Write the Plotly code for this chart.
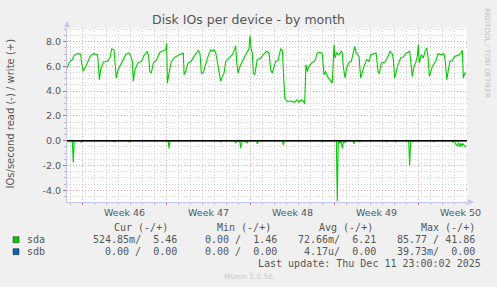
import pandas as pd
import plotly.graph_objects as go

# ---------------- data ----------------
week_start = "2025-11-10"          # Monday of week 46
week_labels = ["Week 46", "Week 47", "Week 48", "Week 49", "Week 50"]
week_label_days = [3.5, 10.5, 17.5, 24.5, 31.5]

# sda write (+), time as days since week_start
write_days = [-1.25, -1.11, -0.83, -0.69, -0.42, -0.13, -0.08, 0.0, 0.08, 0.28, 0.48, 0.70, 0.92,
              1.12, 1.27, 1.33, 1.42, 1.53, 1.75, 2.08, 2.31, 2.45, 2.64, 2.73, 2.83, 2.98,
              3.20, 3.42, 3.62, 3.89, 4.03, 4.17, 4.25, 4.39, 4.64, 4.92, 5.14, 5.42, 5.53,
              5.62, 5.75, 5.92, 6.20, 6.48, 6.75, 6.95, 7.03, 7.09, 7.23, 7.42, 7.64, 7.87,
              8.06, 8.33, 8.42, 8.48, 8.62, 8.81, 9.03, 9.31, 9.53, 9.67, 9.81, 9.92, 10.06,
              10.28, 10.48, 10.70, 10.83, 10.98, 11.12, 11.25, 11.39, 11.53, 11.67, 11.81,
              11.95, 12.23, 12.50, 12.70, 12.78, 12.87, 12.98, 13.14, 13.33, 13.56, 13.75,
              13.89, 13.98, 14.08, 14.17, 14.25, 14.37, 14.58, 14.87, 15.08, 15.28, 15.37,
              15.56, 15.70, 15.83, 15.98, 16.12, 16.31, 16.42, 16.53, 16.67, 16.75, 16.87,
              17.08, 17.37, 17.64, 17.92, 18.06, 18.25, 18.42, 18.53, 18.64, 18.75, 18.89,
              19.17, 19.37, 19.58, 19.81, 20.00, 20.14, 20.28, 20.42, 20.64, 20.83, 20.98,
              21.06, 21.20, 21.39, 21.58, 21.67, 21.75, 21.89, 22.03, 22.23, 22.42, 22.58,
              22.70, 22.83, 23.06, 23.20, 23.33, 23.48, 23.70, 23.89, 24.03, 24.25, 24.48,
              24.53, 24.64, 24.75, 24.92, 25.20, 25.42, 25.64, 25.83, 25.92, 26.03, 26.14,
              26.31, 26.53, 26.75, 26.95, 27.17, 27.28, 27.37, 27.50, 27.64, 27.78, 27.92,
              28.00, 28.08, 28.25, 28.42, 28.56, 28.70, 28.81, 28.92, 29.03, 29.17, 29.45,
              29.64, 29.92, 30.14, 30.25, 30.37, 30.48, 30.64, 30.83, 31.03, 31.25, 31.53,
              31.67, 31.75, 31.87, 31.96]
write_vals = [5.87, 6.28, 6.55, 6.87, 7.03, 7.00, 6.40, 5.87, 5.60, 6.00, 6.40, 6.87, 7.03,
              6.95, 6.95, 6.28, 4.92, 5.73, 6.36, 6.40, 6.68, 7.41, 7.35, 6.28, 5.06, 5.73,
              6.14, 6.55, 6.95, 7.09, 6.87, 6.40, 4.79, 5.73, 6.28, 6.40, 6.87, 7.22, 6.81,
              5.60, 5.46, 6.28, 6.55, 7.14, 7.30, 7.35, 7.84, 4.65, 5.46, 6.40, 6.68, 6.87,
              6.95, 7.03, 7.09, 5.33, 5.60, 6.28, 6.36, 6.81, 7.09, 7.30, 7.03, 5.46, 5.46,
              6.28, 6.81, 7.35, 7.22, 7.35, 7.09, 6.40, 5.60, 4.79, 5.19, 5.46,
              6.40, 6.68, 6.95, 7.41, 7.68, 6.28, 5.46, 6.00, 6.40, 6.95, 7.22,
              7.35, 8.49, 7.35, 7.09, 5.46, 5.33, 6.55, 6.68, 6.95, 7.09, 7.22,
              7.09, 5.73, 5.46, 6.00, 6.40, 6.47, 6.95, 7.41, 7.30, 5.73, 3.44,
              3.16, 3.20, 3.10, 3.30, 3.10, 3.30, 3.15, 2.98, 6.14, 5.60, 6.00,
              6.33, 6.40, 7.09, 7.14, 7.03, 5.33, 5.60, 5.19, 4.92, 4.65, 7.76,
              6.68, 7.09, 6.95, 7.22, 7.09, 6.00, 5.06, 5.87, 6.33, 6.40, 7.14,
              7.62, 7.09, 6.81, 5.06, 5.60, 6.00, 6.55, 6.40, 6.95, 7.03, 7.09,
              6.68, 5.60, 5.41, 6.28, 6.33, 6.68, 7.22, 7.03, 6.55, 5.06, 5.46,
              6.14, 6.68, 6.75, 7.03, 7.14, 7.22, 6.40, 5.19, 6.00, 6.28, 6.81,
              7.76, 6.28, 6.95, 6.68, 7.22, 7.49, 6.81, 5.19, 5.60, 6.00, 6.40,
              7.03, 6.95, 7.03, 6.40, 4.92, 5.60, 6.40, 6.47, 6.81, 6.87, 7.03,
              7.30, 5.06, 5.46, 5.46]

# sda read (-), magnitudes, drawn below zero
read_days = [-1.25, -0.83, -0.75, -0.67, -0.15, -0.08, 0.02, 2.55, 2.64, 2.72, 3.80, 3.89, 3.98,
             7.15, 7.23, 7.31, 11.45, 11.53, 11.61, 12.70, 12.78, 12.90, 13.12, 13.20, 13.30,
             13.50, 13.56, 13.64, 13.72, 13.85, 14.50, 14.58, 14.68, 16.67, 16.75, 16.85,
             19.90, 19.98, 20.06, 21.17, 21.25, 21.33, 21.48, 21.56, 21.67, 21.78, 21.89,
             21.98, 22.56, 22.64, 22.72, 23.06, 23.14, 23.22, 25.31, 25.39, 25.47, 26.06,
             26.14, 26.22, 27.20, 27.28, 27.36, 27.48, 27.56, 27.64, 29.22, 29.30, 29.38,
             29.72, 29.80, 29.88, 30.81, 30.89, 30.97, 31.14, 31.25, 31.35, 31.48, 31.56,
             31.64, 31.72, 31.85, 31.96]
read_vals = [0.0, 0.0, 1.75, 0.0, 0.0, 0.15, 0.0, 0.0, 0.10, 0.0, 0.0, 0.10, 0.0,
             0.0, 0.62, 0.0, 0.0, 0.10, 0.0, 0.0, 0.20, 0.0, 0.0, 0.60, 0.0,
             0.0, 0.10, 0.0, 0.20, 0.0, 0.0, 0.25, 0.0, 0.0, 0.35, 0.0,
             0.0, 0.10, 0.0, 0.0, 4.87, 0.0, 0.20, 0.0, 0.62, 0.0, 0.15,
             0.0, 0.0, 0.25, 0.0, 0.0, 0.10, 0.0, 0.0, 0.10, 0.0, 0.0,
             0.10, 0.0, 0.0, 2.03, 0.0, 0.0, 0.10, 0.0, 0.0, 0.10, 0.0,
             0.0, 0.05, 0.0, 0.0, 0.15, 0.0, 0.30, 0.43, 0.15, 0.50, 0.20,
             0.45, 0.25, 0.45, 0.52]

# sdb: idle
sdb_days = [-1.25, 31.96]
sdb_read = [0.0, 0.0]
sdb_write = [0.0, 0.0]

ytick_vals = [-4, -2, 0, 2, 4, 6, 8]
ytick_text = ["-4.0", "-2.0", "0.0", "2.0", "4.0", "6.0", "8.0"]

series_names = ["sda", "sdb"]
series_colors = ["#00cc00", "#0066b3"]
legend_headers = ["Cur (-/+)", "Min (-/+)", "Avg (-/+)", "Max (-/+)"]
sda_stats = ["524.85m/  5.46", "0.00 /  1.46", "72.66m/  6.21", "85.77 / 41.86"]
sdb_stats = ["0.00 /  0.00", "0.00 /  0.00", "4.17u/  0.00", "39.73m/  0.00"]

# ---------------- figure ----------------
W, H = 497, 287
L, R, T, B = 67, 30, 28, 85
PW, PH = W - L - R, H - T - B


def px(x):
    return (x - L) / PW


def py(y):
    return (H - B - y) / PH


base = pd.Timestamp(week_start)


def to_time(days):
    return [base + pd.Timedelta(days=d) for d in days]


x_range = [base + pd.Timedelta(days=-1.275), base + pd.Timedelta(days=32.058)]

fig = go.Figure()
fig.add_trace(go.Scatter(x=to_time(sdb_days), y=[-v for v in sdb_read], mode="lines",
                         line=dict(color=series_colors[1], width=1), showlegend=False))
fig.add_trace(go.Scatter(x=to_time(sdb_days), y=sdb_write, mode="lines",
                         line=dict(color=series_colors[1], width=1), showlegend=False))
fig.add_trace(go.Scatter(x=to_time(read_days), y=[-v for v in read_vals], mode="lines",
                         line=dict(color=series_colors[0], width=1.1), showlegend=False))
fig.add_trace(go.Scatter(x=to_time(write_days), y=write_vals, mode="lines",
                         line=dict(color=series_colors[0], width=1.1), showlegend=False))

txt = "#555555"
axis_col = "#c4c4f0"
major_grid = "rgba(235,130,130,0.6)"
minor_grid = "rgba(170,170,170,0.5)"
dash = "1px,2px"

fig.update_layout(
    width=W, height=H,
    margin=dict(l=L, r=R, t=T, b=B, pad=0),
    paper_bgcolor="#f0f0f0", plot_bgcolor="#ffffff",
    font=dict(family="DejaVu Sans", size=9.5, color=txt),
    showlegend=False,
    xaxis=dict(
        type="date", range=x_range, showticklabels=False,
        tick0=week_start, dtick=7 * 86400000,
        showgrid=True, gridcolor=major_grid, griddash=dash, gridwidth=1,
        ticks="outside", ticklen=2, tickcolor="#e06060",
        minor=dict(dtick=86400000, tick0=week_start, showgrid=True, gridcolor=minor_grid,
                   griddash=dash, ticks="outside", ticklen=2, tickcolor="#bbbbbb"),
        showline=True, linecolor=axis_col, linewidth=1, zeroline=False,
    ),
    yaxis=dict(
        range=[-4.95, 9.1], tickvals=ytick_vals, ticktext=ytick_text,
        showgrid=True, gridcolor=major_grid, griddash=dash, gridwidth=1,
        ticks="outside", ticklen=3, tickcolor="#e06060",
        minor=dict(dtick=0.5, tick0=0, showgrid=True, gridcolor=minor_grid, griddash=dash,
                   ticks="outside", ticklen=2, tickcolor="#bbbbbb"),
        showline=True, linecolor=axis_col, linewidth=1, zeroline=False,
        tickfont=dict(size=9.5, color=txt),
    ),
)

# zero rule
fig.add_shape(type="line", xref="paper", yref="y", x0=0, x1=1, y0=0, y1=0,
              line=dict(color="#000000", width=1.5), layer="above")
# axis extensions + arrows
fig.add_shape(type="line", xref="paper", yref="paper", x0=px(L), x1=px(L), y0=1, y1=py(24),
              line=dict(color=axis_col, width=1))
fig.add_shape(type="path", xref="paper", yref="paper",
              path=f"M {px(L-3)} {py(27)} L {px(L)} {py(21)} L {px(L+3)} {py(27)} Z",
              fillcolor=axis_col, line=dict(width=0))
fig.add_shape(type="line", xref="paper", yref="paper", x0=1, x1=px(471), y0=0, y1=0,
              line=dict(color=axis_col, width=1))
fig.add_shape(type="path", xref="paper", yref="paper",
              path=f"M {px(468)} {py(H-B-3)} L {px(474)} {py(H-B)} L {px(468)} {py(H-B+3)} Z",
              fillcolor=axis_col, line=dict(width=0))

ann = []
# title
ann.append(dict(text="Disk IOs per device - by month", x=px(248.5), y=py(19.5), xref="paper",
                yref="paper", showarrow=False, xanchor="center", yanchor="middle",
                font=dict(size=12.5, color=txt)))
# y axis title
ann.append(dict(text="IOs/second read (-) / write (+)", x=px(10), y=py(113.5), xref="paper",
                yref="paper", showarrow=False, textangle=-90, xanchor="center",
                yanchor="middle", font=dict(size=10, color=txt)))
# rrdtool credit
ann.append(dict(text="RRDTOOL / TOBI OETIKER", x=px(487), y=py(53), xref="paper", yref="paper",
                showarrow=False, textangle=90, xanchor="center", yanchor="middle",
                font=dict(size=7, color="#c0c0c0")))
# week labels
for lab, d in zip(week_labels, week_label_days):
    ann.append(dict(text=lab, x=base + pd.Timedelta(days=d), y=py(212.5), xref="x",
                    yref="paper", showarrow=False, xanchor="center", yanchor="middle",
                    font=dict(size=9.5, color=txt)))

mono = "DejaVu Sans Mono"
header_ends = [169.8, 272.5, 374.5, 476.5]
value_ends = [178.8, 278.8, 377.8, 477.2]
for h, xe in zip(legend_headers, header_ends):
    ann.append(dict(text=h.replace(" ", "&nbsp;"), x=px(xe), y=py(227.5), xref="paper",
                    yref="paper", showarrow=False, xanchor="right", yanchor="middle",
                    font=dict(family=mono, size=10, color=txt)))
for row_y, name, stats in [(239.7, series_names[0], sda_stats), (251.7, series_names[1], sdb_stats)]:
    ann.append(dict(text=name, x=px(25), y=py(row_y), xref="paper", yref="paper",
                    showarrow=False, xanchor="left", yanchor="middle",
                    font=dict(family=mono, size=10, color=txt)))
    for s, xe in zip(stats, value_ends):
        ann.append(dict(text=s.replace(" ", "&nbsp;"), x=px(xe), y=py(row_y), xref="paper",
                        yref="paper", showarrow=False, xanchor="right", yanchor="middle",
                        font=dict(family=mono, size=10, color=txt)))
ann.append(dict(text="Last update: Thu Dec 11 23:00:02 2025".replace(" ", "&nbsp;"),
                x=px(483.2), y=py(263.3), xref="paper", yref="paper", showarrow=False,
                xanchor="right", yanchor="middle", font=dict(family=mono, size=10, color=txt)))
ann.append(dict(text="Munin 2.0.56", x=px(248), y=py(276.3), xref="paper", yref="paper",
                showarrow=False, xanchor="center", yanchor="middle",
                font=dict(size=7.5, color="#c8c8c8")))
fig.update_layout(annotations=ann)

# legend colour boxes
for row_y, col in [(239.7, series_colors[0]), (251.7, series_colors[1])]:
    fig.add_shape(type="rect", xref="paper", yref="paper", x0=px(13), x1=px(19),
                  y0=py(row_y + 3), y1=py(row_y - 3), fillcolor=col,
                  line=dict(color="#222222", width=0.5))

fig.write_html("out.html")
